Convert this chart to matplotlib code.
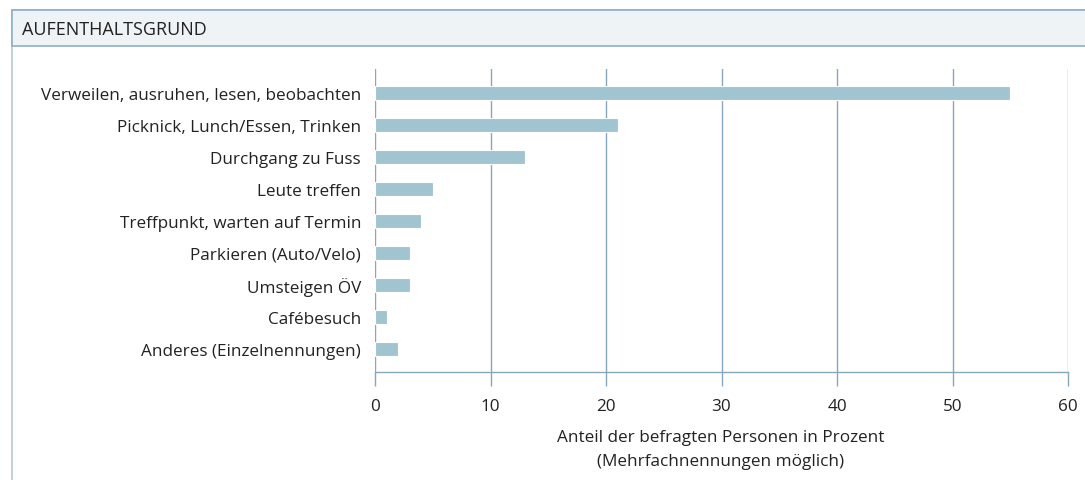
import matplotlib.pyplot as plt
from matplotlib.patches import Rectangle
import numpy as np

# Werte (Prozent)
kategorien = [
    'Verweilen, ausruhen, lesen, beobachten',
    'Picknick, Lunch/Essen, Trinken',
    'Durchgang zu Fuss',
    'Leute treffen',
    'Treffpunkt, warten auf Termin',
    'Parkieren (Auto/Velo)',
    'Umsteigen ÖV',
    'Cafébesuch',
    'Anderes (Einzelnennungen)',
]
anteile = [55, 21, 13, 5, 4, 3, 3, 1, 2]
x_ticks = [0, 10, 20, 30, 40, 50, 60]

titel = 'AUFENTHALTSGRUND'
x_titel = 'Anteil der befragten Personen in Prozent\n(Mehrfachnennungen möglich)'

plt.rcParams['font.family'] = ['Open Sans', 'DejaVu Sans']

BAR = '#a1c5d0'
GRID = '#86a8bf'
TEXT = '#222222'

W, H = 1085, 481
fig = plt.figure(figsize=(W / 100, H / 100), dpi=100)

# Rahmen und Kopfzeile (rechts und unten abgeschnitten wie in der Vorlage)
fig.patches.append(Rectangle((12 / W, -0.2), 1.0, 1.2 - 10.5 / H, transform=fig.transFigure,
                             facecolor='none', edgecolor='#b3cad8', linewidth=1.2))
fig.patches.append(Rectangle((12 / W, 1 - 46.5 / H), 1.0, 36 / H, transform=fig.transFigure,
                             facecolor='#eef3f6', edgecolor='#8eaec4', linewidth=1.2))
fig.text(22 / W, 1 - 30 / H, titel, fontsize=13, color=TEXT, va='center', ha='left')

ax = fig.add_axes([375 / W, 1 - 373 / H, (1068 - 375) / W, (373 - 70) / H])
y = np.arange(len(kategorien))
ax.barh(y, anteile, height=0.42, color=BAR, edgecolor='white', linewidth=0.8, zorder=3)

ax.set_xlim(0, 60)
ax.set_ylim(len(kategorien) - 1 + 0.72, -0.75)
ax.set_xticks(x_ticks)
ax.set_yticks(y)
ax.set_yticklabels(kategorien)
ax.tick_params(axis='y', length=0, pad=10, labelsize=12.3, labelcolor=TEXT)
ax.tick_params(axis='x', length=10, width=1.0, color=GRID, pad=9, labelsize=12.3, labelcolor=TEXT)
ax.grid(axis='x', color=GRID, linewidth=1.0, zorder=0)
for side in ['top', 'right', 'left']:
    ax.spines[side].set_visible(False)
ax.spines['bottom'].set_color(GRID)
ax.spines['bottom'].set_linewidth(1.0)

fig.text(721 / W, 1 - 450 / H, x_titel, fontsize=12.3, color=TEXT,
         ha='center', va='center', linespacing=1.75)

fig.savefig('out.png', dpi=100)
